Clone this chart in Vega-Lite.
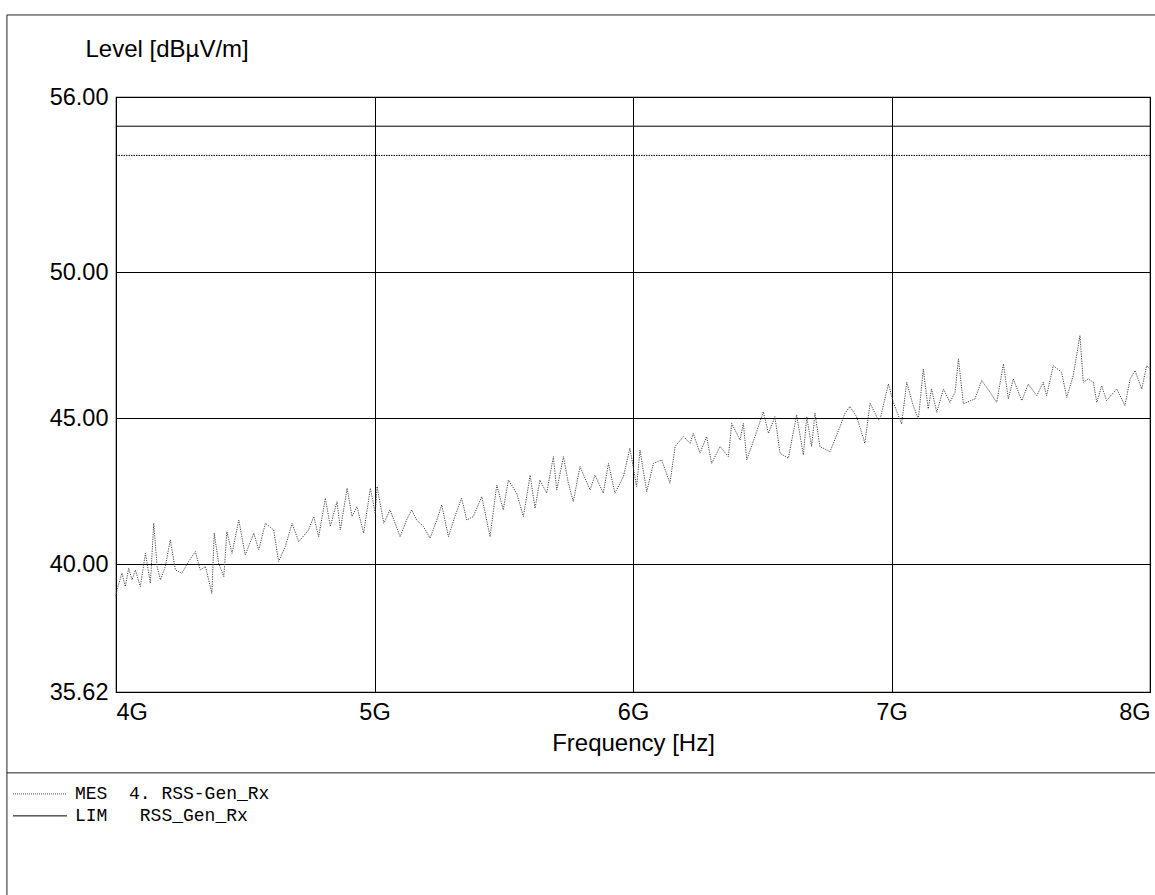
{
  "$schema": "https://vega.github.io/schema/vega-lite/v6.json",
  "autosize": "none",
  "width": 1034,
  "height": 595,
  "padding": {"left": 116, "top": 97, "right": 5, "bottom": 203},
  "background": "white",
  "config": {
    "font": "Liberation Sans",
    "view": {"stroke": "black", "strokeWidth": 1.2},
    "axis": {
      "labelFont": "Liberation Sans", "labelFontSize": 23.5, "labelColor": "black",
      "titleFont": "Liberation Sans", "titleFontSize": 24, "titleFontWeight": "normal", "titleColor": "black",
      "grid": true, "gridColor": "black", "gridOpacity": 1, "gridWidth": 1,
      "domain": false, "ticks": false, "tickSize": 0
    }
  },
  "datasets": {
    "mes": [
      {"f":4.000,"v":38.90},{"f":4.004,"v":39.12},{"f":4.023,"v":39.69},{"f":4.036,"v":39.23},{"f":4.049,"v":39.86},
      {"f":4.062,"v":39.46},{"f":4.075,"v":39.80},{"f":4.094,"v":39.23},{"f":4.114,"v":40.37},{"f":4.133,"v":39.34},
      {"f":4.146,"v":41.40},{"f":4.159,"v":39.92},{"f":4.172,"v":39.46},{"f":4.191,"v":39.92},{"f":4.210,"v":40.83},
      {"f":4.230,"v":39.80},{"f":4.255,"v":39.69},{"f":4.281,"v":40.09},{"f":4.307,"v":40.43},{"f":4.326,"v":39.80},
      {"f":4.346,"v":39.92},{"f":4.371,"v":39.00},{"f":4.380,"v":41.06},{"f":4.397,"v":40.03},{"f":4.417,"v":39.57},
      {"f":4.429,"v":41.11},{"f":4.449,"v":40.37},{"f":4.475,"v":41.51},{"f":4.500,"v":40.31},{"f":4.533,"v":41.06},
      {"f":4.552,"v":40.49},{"f":4.578,"v":41.40},{"f":4.610,"v":41.17},{"f":4.629,"v":40.09},{"f":4.655,"v":40.60},
      {"f":4.681,"v":41.40},{"f":4.707,"v":40.77},{"f":4.745,"v":41.17},{"f":4.765,"v":41.63},{"f":4.784,"v":40.94},
      {"f":4.810,"v":42.26},{"f":4.829,"v":41.29},{"f":4.855,"v":42.14},{"f":4.868,"v":41.17},{"f":4.894,"v":42.60},
      {"f":4.913,"v":41.63},{"f":4.932,"v":41.97},{"f":4.958,"v":41.06},{"f":4.984,"v":42.60},{"f":5.003,"v":41.74},
      {"f":5.010,"v":42.66},{"f":5.036,"v":41.40},
      {"f":5.060,"v":41.86},{"f":5.099,"v":40.94},{"f":5.124,"v":41.51},{"f":5.144,"v":41.86},{"f":5.163,"v":41.51},
      {"f":5.189,"v":41.29},{"f":5.215,"v":40.89},{"f":5.241,"v":41.51},{"f":5.260,"v":42.03},{"f":5.286,"v":40.94},
      {"f":5.311,"v":41.63},{"f":5.337,"v":42.26},{"f":5.357,"v":41.51},{"f":5.382,"v":41.63},{"f":5.415,"v":42.31},
      {"f":5.447,"v":40.94},{"f":5.473,"v":42.71},{"f":5.498,"v":41.86},{"f":5.518,"v":42.88},{"f":5.550,"v":42.43},
      {"f":5.576,"v":41.63},{"f":5.602,"v":43.05},{"f":5.621,"v":41.91},{"f":5.640,"v":42.88},{"f":5.666,"v":42.43},
      {"f":5.692,"v":43.68},{"f":5.705,"v":42.54},{"f":5.731,"v":43.68},{"f":5.750,"v":42.77},{"f":5.769,"v":42.14},
      {"f":5.795,"v":43.34},{"f":5.834,"v":42.54},{"f":5.853,"v":43.05},{"f":5.885,"v":42.43},{"f":5.905,"v":43.45},
      {"f":5.930,"v":42.43},{"f":5.963,"v":43.00},{"f":5.988,"v":43.97},{"f":6.014,"v":42.66},
      {"f":6.027,"v":43.91},{"f":6.053,"v":42.48},{"f":6.079,"v":43.45},{"f":6.111,"v":43.57},{"f":6.143,"v":42.77},
      {"f":6.163,"v":44.03},{"f":6.195,"v":44.37},{"f":6.221,"v":44.14},{"f":6.233,"v":44.48},{"f":6.259,"v":43.80},
      {"f":6.285,"v":44.37},{"f":6.304,"v":43.45},{"f":6.337,"v":44.03},{"f":6.369,"v":43.68},{"f":6.382,"v":44.82},
      {"f":6.414,"v":44.25},{"f":6.427,"v":44.82},{"f":6.440,"v":43.57},{"f":6.472,"v":44.37},{"f":6.504,"v":45.22},
      {"f":6.524,"v":44.48},{"f":6.549,"v":45.05},{"f":6.569,"v":43.80},{"f":6.601,"v":43.63},{"f":6.633,"v":45.11},
      {"f":6.659,"v":43.74},{"f":6.672,"v":45.05},{"f":6.691,"v":44.03},{"f":6.704,"v":45.17},{"f":6.723,"v":44.03},
      {"f":6.762,"v":43.85},{"f":6.801,"v":44.71},{"f":6.820,"v":45.17},{"f":6.839,"v":45.40},{"f":6.865,"v":45.05},
      {"f":6.897,"v":44.14},{"f":6.917,"v":45.51},{"f":6.949,"v":44.94},
      {"f":6.956,"v":44.97},{"f":6.988,"v":46.17},{"f":7.007,"v":45.54},{"f":7.039,"v":44.80},{"f":7.059,"v":46.23},
      {"f":7.084,"v":45.43},{"f":7.104,"v":44.97},{"f":7.123,"v":46.68},{"f":7.142,"v":45.32},{"f":7.155,"v":46.00},
      {"f":7.175,"v":45.20},{"f":7.201,"v":46.00},{"f":7.226,"v":45.54},{"f":7.246,"v":45.89},{"f":7.259,"v":47.03},
      {"f":7.278,"v":45.49},{"f":7.323,"v":45.66},{"f":7.349,"v":46.29},{"f":7.381,"v":45.89},{"f":7.407,"v":45.54},
      {"f":7.433,"v":46.86},{"f":7.452,"v":45.66},{"f":7.471,"v":46.34},{"f":7.504,"v":45.60},{"f":7.529,"v":46.17},
      {"f":7.562,"v":45.77},{"f":7.587,"v":46.23},{"f":7.600,"v":45.77},{"f":7.626,"v":46.80},{"f":7.658,"v":46.57},
      {"f":7.678,"v":45.71},{"f":7.703,"v":46.46},{"f":7.729,"v":47.83},{"f":7.742,"v":46.23},{"f":7.761,"v":46.34},
      {"f":7.781,"v":46.23},{"f":7.794,"v":45.54},{"f":7.813,"v":46.11},{"f":7.832,"v":45.60},{"f":7.871,"v":46.00},
      {"f":7.903,"v":45.43},{"f":7.923,"v":46.34},{"f":7.942,"v":46.63},{"f":7.968,"v":46.00},{"f":7.987,"v":46.80},
      {"f":8.000,"v":46.69}
    ],
    "lim": [{"f":4,"v":55.0},{"f":8,"v":55.0}],
    "lim2": [{"f":4,"v":54.0},{"f":8,"v":54.0}],
    "frame": [
      {"f":3.578,"f2":8.05,"v":58.81,"v2":58.81},
      {"f":3.578,"f2":3.578,"v":58.81,"v2":28.5},
      {"f":3.578,"f2":8.05,"v":32.85,"v2":32.85}
    ],
    "legMes": [{"f":3.6015,"f2":3.8104,"v":32.130,"t":"MES\u00a0\u00a04.\u00a0RSS-Gen_Rx"}],
    "legLim": [{"f":3.6015,"f2":3.8104,"v":31.377,"t":"LIM\u00a0\u00a0\u00a0RSS_Gen_Rx"}]
  },
  "encoding": {
    "x": {
      "field": "f", "type": "quantitative",
      "scale": {"domain": [4, 8], "nice": false, "zero": false},
      "axis": {
        "values": [4, 5, 6, 7, 8], "labelExpr": "datum.value + 'G'",
        "labelFlush": true, "labelPadding": 8,
        "title": "Frequency [Hz]", "titlePadding": 8
      }
    },
    "y": {
      "field": "v", "type": "quantitative",
      "scale": {"domain": [35.62, 56], "nice": false, "zero": false},
      "axis": {
        "values": [35.62, 40, 45, 50, 56], "format": ".2f",
        "labelFlush": false, "labelPadding": 8,
        "title": "Level [dBµV/m]", "titleAngle": 0, "titleAlign": "left",
        "titleBaseline": "alphabetic", "titleX": -31, "titleY": -41
      }
    }
  },
  "layer": [
    {
      "data": {"name": "frame"},
      "mark": {"type": "rule", "color": "#222", "strokeWidth": 1},
      "encoding": {"x2": {"field": "f2"}, "y2": {"field": "v2"}}
    },
    {
      "data": {"name": "lim2"},
      "mark": {"type": "line", "color": "black", "strokeWidth": 1, "strokeDash": [1.5, 1]}
    },
    {
      "data": {"name": "lim"},
      "mark": {"type": "line", "color": "black", "strokeWidth": 1}
    },
    {
      "data": {"name": "mes"},
      "mark": {"type": "line", "color": "#444", "strokeWidth": 1, "strokeDash": [1.2, 1.2]}
    },
    {
      "data": {"name": "legMes"},
      "mark": {"type": "rule", "color": "#555", "strokeWidth": 1, "strokeDash": [1, 1]},
      "encoding": {"x2": {"field": "f2"}}
    },
    {
      "data": {"name": "legLim"},
      "mark": {"type": "rule", "color": "black", "strokeWidth": 1},
      "encoding": {"x2": {"field": "f2"}}
    },
    {
      "data": {"name": "legMes"},
      "mark": {"type": "text", "font": "Liberation Mono", "fontSize": 18, "align": "left", "baseline": "middle", "dx": 62, "color": "black"},
      "encoding": {"text": {"field": "t"}}
    },
    {
      "data": {"name": "legLim"},
      "mark": {"type": "text", "font": "Liberation Mono", "fontSize": 18, "align": "left", "baseline": "middle", "dx": 62, "color": "black"},
      "encoding": {"text": {"field": "t"}}
    }
  ]
}
